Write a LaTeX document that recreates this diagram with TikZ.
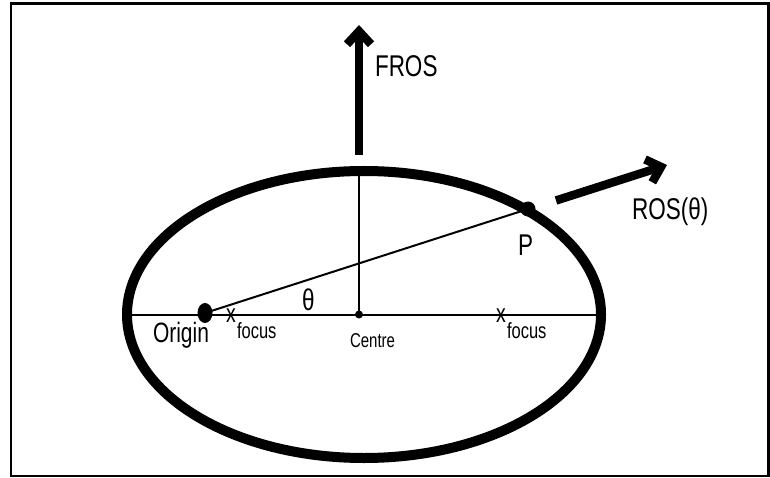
\documentclass[tikz,border=0pt]{standalone}
\usepackage{fontspec}
\setmainfont{Liberation Sans}
\newfontfamily\narrowfont[FakeStretch=0.75]{Liberation Sans}
\usetikzlibrary{arrows.meta,shapes.geometric}
\tikzset{
  lbl/.style={inner sep=0pt, outer sep=0pt, font=\narrowfont},
  thinline/.style={line width=2pt},
  bigarrow/.style={line width=8.5pt, -{Straight Barb[length=13pt,width=24pt]}},
  dotnode/.style={fill=black, inner sep=0pt, outer sep=0pt},
}
\begin{document}
\begin{tikzpicture}[x=1pt,y=-1pt]
\useasboundingbox (0,0) rectangle (770,478);
\draw[line width=2.5pt] (11,3.5) rectangle (768.5,476);
% axes
\coordinate (axL) at (127,314.5);
\coordinate (axR) at (601,314.5);
\coordinate (top) at (359,171);
\node[dotnode, circle, minimum size=8pt] (centre) at (359,314.5) {};
\draw[thinline] (axL) -- (axR);
\draw[thinline] (centre.center) -- (top);
% ellipse
\draw[line width=10pt] (364,314.5) ellipse [x radius=237pt, y radius=143.5pt];
% dots
\node[dotnode, ellipse, minimum width=15pt, minimum height=20pt] (origin) at (205,313) {};
\node[dotnode, circle, minimum size=15pt] (P) at (528,209) {};
\draw[thinline] (origin.center) -- (P.center);
% arrows
\coordinate (frosA) at (359,155);
\coordinate (frosB) at (359,25);
\draw[bigarrow] (frosA) -- (frosB);
\coordinate (rosA) at (556,200.5);
\coordinate (rosB) at (667,165);
\draw[bigarrow] (rosA) -- (rosB);
% labels
\node[lbl, font=\narrowfont\fontsize{30}{30}\selectfont, anchor=base west] (froslbl) at (375,77) {FROS};
\node[lbl, font=\narrowfont\fontsize{30}{30}\selectfont, anchor=base west] (roslbl) at (632,220) {ROS(θ)};
\node[lbl, font=\narrowfont\fontsize{30}{30}\selectfont, anchor=base west] (plbl) at (518,255) {P};
\node[lbl, font=\narrowfont\fontsize{30}{30}\selectfont, anchor=base west] (thlbl) at (302,310) {θ};
\node[lbl, font=\narrowfont\fontsize{28}{28}\selectfont, anchor=base west] (originlbl) at (153,342) {Origin};
\node[lbl, font=\narrowfont\fontsize{20}{20}\selectfont, anchor=base west] (centrelbl) at (350,347) {Centre};
\node[lbl, font=\narrowfont\fontsize{26}{26}\selectfont, anchor=base west] (xL) at (226,322) {x};
\node[lbl, font=\narrowfont\fontsize{22}{22}\selectfont, anchor=base west] (fL) at (237,338) {focus};
\node[lbl, font=\narrowfont\fontsize{26}{26}\selectfont, anchor=base west] (xR) at (496,322) {x};
\node[lbl, font=\narrowfont\fontsize{22}{22}\selectfont, anchor=base west] (fR) at (507,338) {focus};
\end{tikzpicture}
\end{document}
